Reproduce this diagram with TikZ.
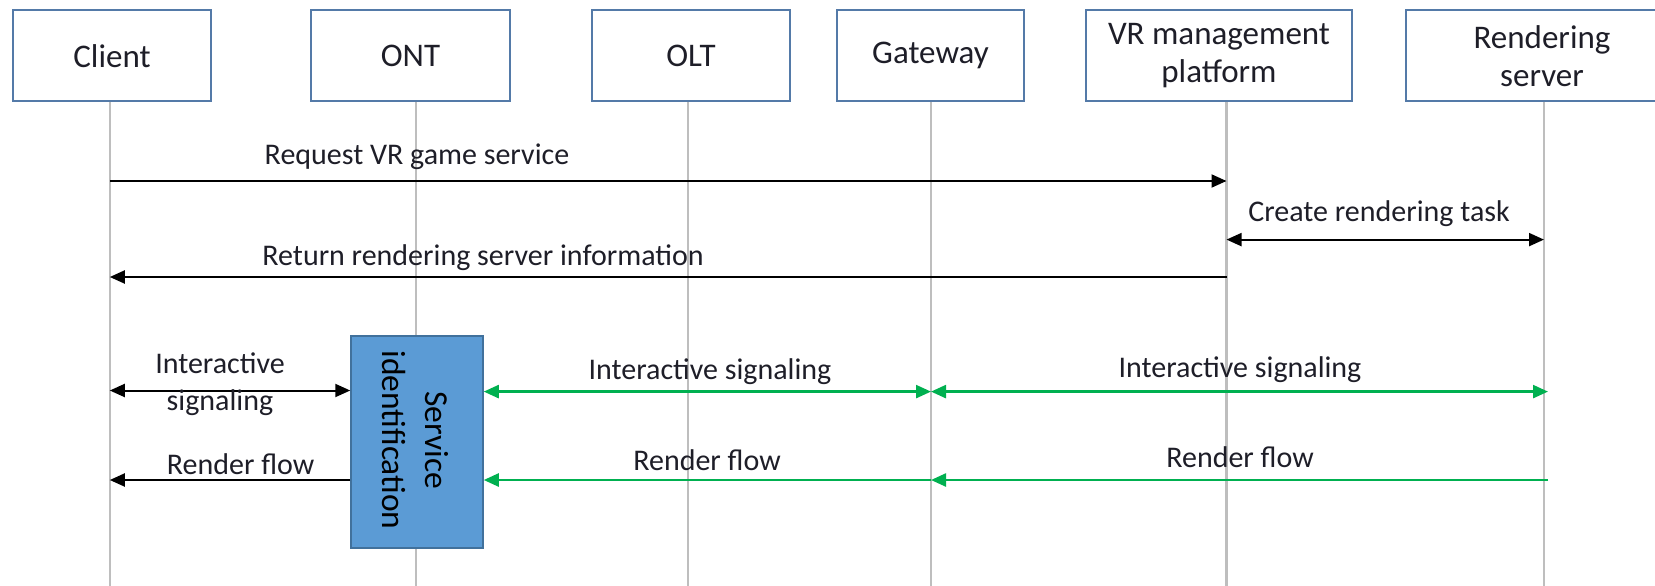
\documentclass[tikz,border=0pt]{standalone}
\usepackage{fontspec}
\setmainfont{Carlito}
\usetikzlibrary{arrows.meta}
\definecolor{boxline}{RGB}{84,122,168}
\definecolor{lifegray}{RGB}{190,190,190}
\definecolor{sigblue}{RGB}{91,155,213}
\definecolor{sigline}{RGB}{65,113,156}
\definecolor{flowgreen}{RGB}{0,176,80}
\definecolor{labeltext}{RGB}{30,30,40}
\tikzset{
  actor/.style={draw=boxline, line width=2pt, fill=white, minimum height=90.5pt,
    align=center, font=\fontsize{33}{38}\selectfont, text=labeltext, inner sep=0pt},
  lifeline/.style={draw=lifegray, line width=2.2pt},
  msg/.style={line width=2pt, draw=black, -{Triangle[length=15pt,width=13pt]}},
  msgboth/.style={line width=2pt, draw=black, {Triangle[length=15pt,width=13pt]}-{Triangle[length=15pt,width=13pt]}},
  gmsg/.style={line width=2.4pt, draw=flowgreen, -{Triangle[length=15pt,width=13pt]}},
  gmsgboth/.style={line width=2.4pt, draw=flowgreen, {Triangle[length=15pt,width=13pt]}-{Triangle[length=15pt,width=13pt]}},
  lbl/.style={font=\fontsize{30}{36.5}\selectfont, text=labeltext, align=center, inner sep=0pt},
}
\begin{document}
\begin{tikzpicture}[x=1pt,y=-1pt]
  \useasboundingbox (0,0) rectangle (1655,586);
  \clip (0,0) rectangle (1655,586);
  \fill[white] (0,0) rectangle (1655,586);

  % participants
  \node[actor, minimum width=198pt] (client) at (112,55.7) {Client};
  \node[actor, minimum width=199pt] (ont) at (410.5,55.7) {ONT};
  \node[actor, minimum width=198pt] (olt) at (691,55.7) {OLT};
  \node[actor, minimum width=187pt] (gw) at (930.5,55.7) {Gateway};
  \node[actor, minimum width=266pt] (vr) at (1219,55.7) {VR management\\platform};
  \node[actor, minimum width=272pt] (rs) at (1542,55.7) {Rendering\\server};

  % lifeline ends
  \coordinate (clientEnd) at (109.8,590);
  \coordinate (ontEnd) at (416,590);
  \coordinate (oltEnd) at (688,590);
  \coordinate (gwEnd) at (931,590);
  \coordinate (vrEnd) at (1226.5,590);
  \coordinate (rsEnd) at (1544,590);

  \draw[lifeline] (clientEnd |- client.south) -- (clientEnd);
  \draw[lifeline] (ontEnd |- ont.south) -- (ontEnd);
  \draw[lifeline] (oltEnd |- olt.south) -- (oltEnd);
  \draw[lifeline] (gwEnd |- gw.south) -- (gwEnd);
  \draw[lifeline] (vrEnd |- vr.south) -- (vrEnd);
  \draw[lifeline] (rsEnd |- rs.south) -- (rsEnd);

  % service identification block on the ONT
  \node[draw=sigline, line width=1.5pt, fill=sigblue, minimum width=132pt, minimum height=212pt,
        inner sep=0pt] (sid) at (417,442) {};
  \node[lbl, rotate=-90, text=black, font=\fontsize{33.5}{43}\selectfont] (sidtext) at (415,440)
        {Service\\identification};

  % points on the lifelines
  \coordinate (c1) at (109.8,181);
  \coordinate (v1) at (1226.5,181);
  \coordinate (v2) at (1226.5,239.6);
  \coordinate (r2) at (1544,239.6);
  \coordinate (v3) at (1226.5,277);
  \coordinate (c3) at (109.8,277);
  \coordinate (c4) at (109.8,390.5);
  \coordinate (g4) at (931,391.6);
  \coordinate (r4) at (1548,391.6);
  \coordinate (c5) at (109.8,480);
  \coordinate (g5) at (931,480);
  \coordinate (r5) at (1548,480);

  % set-up messages
  \draw[msg] (c1) -- (v1);
  \node[lbl] (l1) at (417,157) {Request VR game service};
  \draw[msgboth] (v2) -- (r2);
  \node[lbl] (l2) at (1379,214) {Create rendering task};
  \draw[msg] (v3) -- (c3);
  \node[lbl] (l3) at (483,257.5) {Return rendering server information};

  % interactive signaling
  \draw[msgboth] (c4) -- (c4 -| sid.west);
  \node[lbl] (l4) at (220,384) {Interactive\\signaling};
  \draw[gmsgboth] (sid.east |- g4) -- (g4);
  \node[lbl] (l5) at (710,371.5) {Interactive signaling};
  \draw[gmsgboth] (g4) -- (r4);
  \node[lbl] (l6) at (1240,369.4) {Interactive signaling};

  % render flow
  \draw[msg] (c5 -| sid.west) -- (c5);
  \node[lbl] (l7) at (240.6,464) {Render flow};
  \draw[gmsg] (g5) -- (sid.east |- g5);
  \node[lbl] (l8) at (707,460) {Render flow};
  \draw[gmsg] (r5) -- (g5);
  \node[lbl] (l9) at (1240,457) {Render flow};
\end{tikzpicture}
\end{document}
